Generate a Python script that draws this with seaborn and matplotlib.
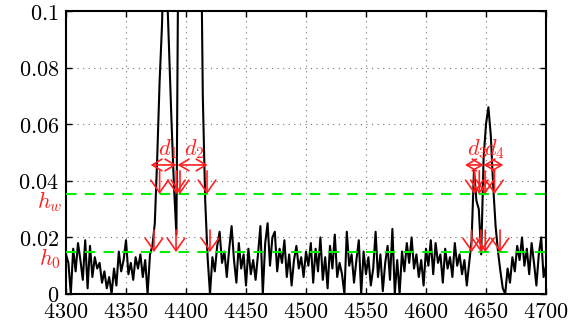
import numpy as np
import pandas as pd
import matplotlib
matplotlib.use("Agg")
import matplotlib.pyplot as plt
import seaborn as sns

# ---- data ----
wavelength = np.arange(4300, 4701, 2)
signal_milli = [
    14, 11, 0, 16, 8, 18, 12, 5, 19, 2,
    17, 6, 13, 9, 11, 4, 8, 2, 6, 0,
    9, 3, 15, 8, 12, 19, 7, 11, 5, 13,
    9, 14, 6, 12, 0, 14, 17, 25, 48, 75,
    95, 130, 110, 85, 60, 38, 21, 150, 250, 300,
    300, 300, 300, 300, 300, 250, 150, 70, 33, 13,
    0, 13, 8, 17, 22, 11, 15, 6, 16, 24,
    12, 4, 18, 9, 14, 3, 16, 7, 12, 5,
    14, 24, 0, 18, 25, 10, 20, 22, 8, 16,
    11, 19, 6, 14, 3, 12, 17, 9, 13, 6,
    15, 10, 18, 4, 16, 8, 20, 5, 13, 2,
    17, 9, 21, 6, 11, 7, 0, 22, 10, 14,
    4, 12, 19, 0, 15, 7, 13, 3, 9, 22,
    6, 14, 1, 11, 17, 5, 23, 0, 12, 0,
    15, 8, 18, 11, 20, 9, 14, 6, 12, 3,
    16, 10, 19, 7, 18, 11, 14, 4, 16, 9,
    13, 6, 18, 10, 14, 7, 12, 3, 11, 19,
    44, 33, 30, 14, 48, 60, 66, 56, 38, 24,
    15, 8, 2, 0, 9, 4, 13, 8, 17, 12,
    20, 10, 16, 7, 18, 11, 3, 14, 20, 6,
    10,
]
signal = np.array(signal_milli) / 1000.0

h0 = 0.0148
hu = 0.0353

upper_arrow_x = [4378, 4392, 4395, 4417.5, 4640.3, 4644.4, 4649.2, 4657]
lower_arrow_x = [4373.3, 4391.7, 4420, 4638, 4645.8, 4649.4, 4661.7]
upper_arrow_top = 0.0435
lower_arrow_top = 0.0226

span_labels = [r"$d_1$", r"$d_2$", r"$d_3$", r"$d_4$"]
span_start = [4370.5, 4393, 4632.5, 4648]
span_end = [4392, 4418, 4648, 4664.4]
span_label_x = [4385, 4407, 4643, 4657]
span_y = 0.0456

xticks = list(range(4300, 4701, 50))
yticks = [0, 0.02, 0.04, 0.06, 0.08, 0.1]
ytick_labels = ["0", "0.02", "0.04", "0.06", "0.08", "0.1"]

# ---- style ----
sns.set_style("ticks")
plt.rcParams["mathtext.fontset"] = "cm"
plt.rcParams["font.family"] = ["DejaVu Serif"]

fig = plt.figure(figsize=(5.87, 3.32), dpi=100)
ax = fig.add_axes([66 / 587, 38 / 332, 480 / 587, 283 / 332])

df = pd.DataFrame({"x": wavelength, "y": signal})
sns.lineplot(data=df, x="x", y="y", ax=ax, color="black", lw=1.5,
             estimator=None, sort=False, zorder=3)

ax.axhline(hu, color="#00ee00", ls=(0, (5, 4)), lw=1.5, zorder=4)
ax.axhline(h0, color="#00ee00", ls=(0, (5, 4)), lw=1.5, zorder=4)

red = "#ff2020"
for xv in upper_arrow_x:
    ax.annotate("", xy=(xv, hu), xytext=(xv, upper_arrow_top),
                arrowprops=dict(arrowstyle="->,head_length=0.5,head_width=0.35",
                                color=red, lw=1.2,
                                mutation_scale=18, shrinkA=0, shrinkB=0),
                zorder=5)
for xv in lower_arrow_x:
    ax.annotate("", xy=(xv, h0), xytext=(xv, lower_arrow_top),
                arrowprops=dict(arrowstyle="->,head_length=0.5,head_width=0.35",
                                color=red, lw=1.2,
                                mutation_scale=18, shrinkA=0, shrinkB=0),
                zorder=5)
for lab, s, e, lx in zip(span_labels, span_start, span_end, span_label_x):
    ax.annotate("", xy=(e, span_y), xytext=(s, span_y),
                arrowprops=dict(arrowstyle="<->,head_length=0.5,head_width=0.3",
                                color=red, lw=1.2,
                                mutation_scale=14, shrinkA=0, shrinkB=0),
                zorder=5)
    ax.text(lx, span_y + 0.0015, lab, color=red, fontsize=16,
            ha="center", va="bottom", zorder=6)

trans = matplotlib.transforms.blended_transform_factory(ax.transAxes, ax.transData)
ax.text(-0.033, 0.0325, r"$h_w$", color=red, fontsize=16, ha="center",
        va="center", transform=trans, clip_on=False)
ax.text(-0.033, 0.0125, r"$h_0$", color=red, fontsize=16, ha="center",
        va="center", transform=trans, clip_on=False)

ax.set_xlim(4300, 4700)
ax.set_ylim(0, 0.1)
ax.set_xticks(xticks)
ax.set_xticklabels([f"${t}$" for t in xticks], fontsize=16)
ax.set_yticks(yticks)
ax.set_yticklabels([f"${t}$" for t in ytick_labels], fontsize=16)
ax.set_xlabel("")
ax.set_ylabel("")
ax.grid(True, color="0.45", ls=(0, (1, 4)), lw=0.8)
ax.tick_params(direction="in", length=4, width=1, top=True, right=True,
               pad=5, colors="black")
for sp in ax.spines.values():
    sp.set_linewidth(1.5)
    sp.set_color("black")
    sp.set_visible(True)

fig.savefig("out.png", dpi=100)
